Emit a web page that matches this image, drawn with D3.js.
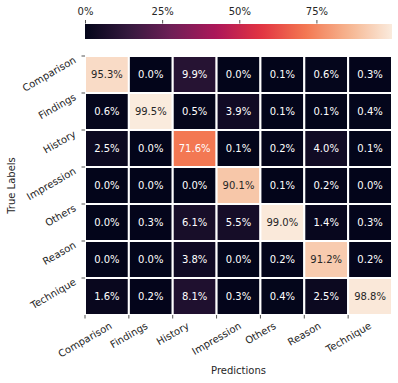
<!DOCTYPE html>
<html>
<head>
<meta charset="utf-8">
<script src="https://cdn.jsdelivr.net/npm/d3@7"></script>
<style>
  body { margin: 0; background: #fff; }
  svg { display: block; font-family: "DejaVu Sans", sans-serif; }
</style>
</head>
<body>
<svg id="chart" width="398" height="383"></svg>
<script>
// categories (true = rows, predicted = columns)
const labels = ['Comparison', 'Findings', 'History', 'Impression', 'Others', 'Reason', 'Technique'];

// row-normalised confusion values, in percent
const comparison = [95.3, 0.0, 9.9, 0.0, 0.1, 0.6, 0.3];
const findings = [0.6, 99.5, 0.5, 3.9, 0.1, 0.1, 0.4];
const history = [2.5, 0.0, 71.6, 0.1, 0.2, 4.0, 0.1];
const impression = [0.0, 0.0, 0.0, 90.1, 0.1, 0.2, 0.0];
const others = [0.0, 0.3, 6.1, 5.5, 99.0, 1.4, 0.3];
const reason = [0.0, 0.0, 3.8, 0.0, 0.2, 91.2, 0.2];
const technique = [1.6, 0.2, 8.1, 0.3, 0.4, 2.5, 98.8];
const rows = [comparison, findings, history, impression, others, reason, technique];

const colorbarTicks = [0, 25, 50, 75];

// seaborn "rocket" colour stops
const rocketStops = ['#03051a', '#35193e', '#701f57', '#ad1759', '#e13342', '#f37651', '#f6b48f', '#faebdd'];

const cells = [];
rows.forEach((r, i) => r.forEach((v, j) => cells.push({ row: labels[i], col: labels[j], value: v })));

const vmax = d3.max(cells, (d) => d.value);

const svg = d3.select('#chart');
const mLeft = 85, mRight = 392, mTop = 56, mBottom = 315;

const x = d3.scaleBand().domain(labels).range([mLeft, mRight]);
const y = d3.scaleBand().domain(labels).range([mTop, mBottom]);

const rocket = d3.scaleLinear()
  .domain(rocketStops.map((c, i) => (i === 0 ? 0 : i === rocketStops.length - 1 ? 1 : i / 7)))
  .range(rocketStops)
  .interpolate(d3.interpolateRgb);
const color = (v) => rocket(v / vmax);

// relative luminance, as seaborn uses to pick annotation colour
function luminance(c) {
  const rgb = d3.rgb(c);
  const f = (u) => { u /= 255; return u <= 0.03928 ? u / 12.92 : Math.pow((u + 0.055) / 1.055, 2.4); };
  return 0.2126 * f(rgb.r) + 0.7152 * f(rgb.g) + 0.0722 * f(rgb.b);
}

// heatmap cells
const g = svg.append('g');
g.selectAll('rect')
  .data(cells)
  .join('rect')
  .attr('x', (d) => x(d.col))
  .attr('y', (d) => y(d.row))
  .attr('width', x.bandwidth())
  .attr('height', y.bandwidth())
  .attr('fill', (d) => color(d.value))
  .attr('stroke', '#fff')
  .attr('stroke-width', 2);

g.selectAll('text')
  .data(cells)
  .join('text')
  .attr('x', (d) => x(d.col) + x.bandwidth() / 2)
  .attr('y', (d) => y(d.row) + y.bandwidth() / 2)
  .attr('text-anchor', 'middle')
  .attr('dominant-baseline', 'central')
  .attr('font-size', 10)
  .attr('fill', (d) => (luminance(color(d.value)) > 0.408 ? '#262626' : '#fff'))
  .text((d) => d.value.toFixed(1) + '%');

// ticks sit on the cell edges
const tickColor = '#262626';
const rad = Math.PI / 6;
labels.forEach((lab) => {
  svg.append('line')
    .attr('x1', mLeft - 3.5).attr('x2', mLeft)
    .attr('y1', y(lab)).attr('y2', y(lab))
    .attr('stroke', tickColor).attr('stroke-width', 0.8);
  // y labels: right end pinned to the tick, then rotated
  const ty = svg.append('text')
    .attr('font-size', 10)
    .attr('fill', tickColor)
    .text(lab);
  const by = ty.node().getBBox();
  ty.attr('transform', `translate(${mLeft - 10},${y(lab) + 3}) rotate(-30) translate(${-(by.x + by.width)},${-(by.y + by.height / 2)})`);

  svg.append('line')
    .attr('x1', x(lab)).attr('x2', x(lab))
    .attr('y1', mBottom).attr('y2', mBottom + 3.5)
    .attr('stroke', tickColor).attr('stroke-width', 0.8);
  // x labels: rotated box centred under the tick
  const tx = svg.append('text')
    .attr('font-size', 10)
    .attr('fill', tickColor)
    .text(lab);
  const bx = tx.node().getBBox();
  const boxH = bx.width * Math.sin(rad) + bx.height * Math.cos(rad);
  tx.attr('transform', `translate(${x(lab)},${mBottom + 5 + boxH / 2}) rotate(-30) translate(${-(bx.x + bx.width / 2)},${-(bx.y + bx.height / 2)})`);
});

svg.append('text')
  .attr('x', (mLeft + mRight) / 2).attr('y', 370)
  .attr('text-anchor', 'middle').attr('dominant-baseline', 'central')
  .attr('font-size', 10).attr('fill', tickColor)
  .text('Predictions');

svg.append('text')
  .attr('transform', `translate(11,${(mTop + mBottom) / 2}) rotate(-90)`)
  .attr('text-anchor', 'middle').attr('dominant-baseline', 'central')
  .attr('font-size', 10).attr('fill', tickColor)
  .text('True Labels');

// colorbar on top
const cbTop = 24, cbH = 15;
const cb = d3.scaleLinear().domain([0, vmax]).range([mLeft, mRight]);
const defs = svg.append('defs');
const grad = defs.append('linearGradient').attr('id', 'rocket');
d3.range(0, 1.0001, 0.02).forEach((t) => {
  grad.append('stop').attr('offset', t).attr('stop-color', rocket(t));
});
svg.append('rect')
  .attr('x', mLeft).attr('y', cbTop)
  .attr('width', mRight - mLeft).attr('height', cbH)
  .attr('fill', 'url(#rocket)');

const cbAxis = d3.axisTop(cb)
  .tickValues(colorbarTicks)
  .tickSize(3.5)
  .tickPadding(5)
  .tickFormat((d) => d + '%');
const ax = svg.append('g').attr('transform', `translate(0,${cbTop - 0.5})`).call(cbAxis);
ax.select('.domain').remove();
ax.selectAll('line').attr('stroke', tickColor).attr('stroke-width', 0.8);
ax.selectAll('text').attr('font-size', 10).attr('fill', tickColor).attr('font-family', 'DejaVu Sans');
</script>
</body>
</html>
